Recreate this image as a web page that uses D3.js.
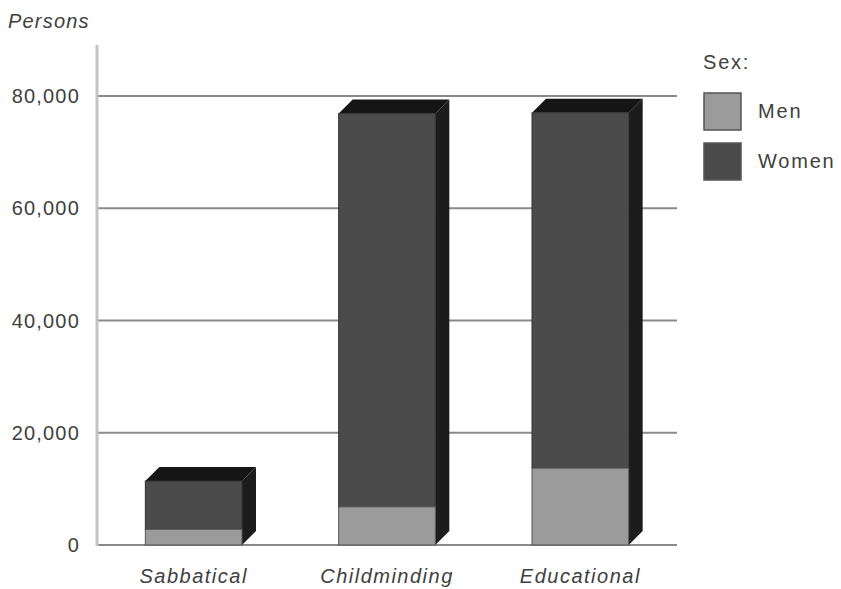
<!DOCTYPE html>
<html>
<head>
<meta charset="utf-8">
<script src="https://cdn.jsdelivr.net/npm/d3@7"></script>
<style>
  body { margin: 0; background: #fff; }
  text { font-family: "Liberation Sans", Arial, sans-serif; fill: #404040; }
</style>
</head>
<body>
<script>
var categories = ["Sabbatical", "Childminding", "Educational"];
var men = [2800, 6800, 13700];
var women = [8600, 70100, 63300];
var yTicks = [0, 20000, 40000, 60000, 80000];
var seriesNames = ["Men", "Women"];

var colFront = {"Men": "#9b9b9b", "Women": "#4b4b4b"};
var depth = 14;

var svg = d3.select("body").append("svg").attr("width", 841).attr("height", 589);

var x = d3.scaleBand()
            .domain(categories)
            .range([97, 677])
            .paddingInner(0.5)
            .paddingOuter(0.25);

var y = d3.scaleLinear().domain([0, 80000]).range([545, 96]);

// grid lines
svg.selectAll("line.grid")
    .data(yTicks)
    .enter().append("line")
      .attr("class", "grid")
      .attr("x1", 97).attr("x2", 677)
      .attr("y1", function(d){ return y(d); })
      .attr("y2", function(d){ return y(d); })
      .attr("stroke", "#8a8a8a")
      .attr("stroke-width", 2);

// y axis line
svg.append("line")
    .attr("x1", 97).attr("x2", 97)
    .attr("y1", 45).attr("y2", 546)
    .attr("stroke", "#c4c4c4")
    .attr("stroke-width", 3);

svg.selectAll("text.ytick")
    .data(yTicks)
    .enter().append("text")
      .attr("class", "ytick")
      .attr("x", 80)
      .attr("y", function(d){ return y(d) + 7; })
      .attr("text-anchor", "end")
      .attr("font-size", 20)
      .attr("letter-spacing", 1.2)
      .text(function(d){ return d3.format(",")(d); });

svg.append("text")
    .attr("x", 8).attr("y", 28)
    .attr("font-size", 20)
    .attr("letter-spacing", 1.2)
    .attr("font-style", "italic")
    .text("Persons");

// bars
var stacked = categories.map(function(c, i){
  return { cat: c, men: men[i], total: men[i] + women[i] };
});

var g = svg.selectAll("g.bar")
    .data(stacked)
    .enter().append("g")
      .attr("class", "bar");

// side face
g.append("path")
    .attr("fill", "#1c1c1c")
    .attr("d", function(d){
      var x1 = x(d.cat) + x.bandwidth(), y0 = y(0), y1 = y(d.total);
      return "M" + x1 + "," + y0 + "L" + (x1 + depth) + "," + (y0 - depth) +
             "L" + (x1 + depth) + "," + (y1 - depth) + "L" + x1 + "," + y1 + "Z";
    });

// top face
g.append("path")
    .attr("fill", "#151515")
    .attr("d", function(d){
      var x0 = x(d.cat), x1 = x0 + x.bandwidth(), y1 = y(d.total);
      return "M" + x0 + "," + y1 + "L" + (x0 + depth) + "," + (y1 - depth) +
             "L" + (x1 + depth) + "," + (y1 - depth) + "L" + x1 + "," + y1 + "Z";
    });

// women front
g.append("rect")
    .attr("x", function(d){ return x(d.cat); })
    .attr("width", x.bandwidth())
    .attr("y", function(d){ return y(d.total); })
    .attr("height", function(d){ return y(d.men) - y(d.total); })
    .attr("fill", colFront.Women)
    .attr("stroke", "#333")
    .attr("stroke-width", 1);

// men front
g.append("rect")
    .attr("x", function(d){ return x(d.cat); })
    .attr("width", x.bandwidth())
    .attr("y", function(d){ return y(d.men); })
    .attr("height", function(d){ return y(0) - y(d.men); })
    .attr("fill", colFront.Men)
    .attr("stroke", "#555")
    .attr("stroke-width", 1);

// category labels
svg.selectAll("text.cat")
    .data(categories)
    .enter().append("text")
      .attr("class", "cat")
      .attr("x", function(d){ return x(d) + x.bandwidth() / 2; })
      .attr("y", 583)
      .attr("text-anchor", "middle")
      .attr("font-size", 20)
      .attr("letter-spacing", 1.5)
      .attr("font-style", "italic")
      .text(function(d){ return d; });

// legend
svg.append("text")
    .attr("x", 703).attr("y", 69)
    .attr("font-size", 20)
    .attr("letter-spacing", 1.8)
    .text("Sex:");

var leg = svg.selectAll("g.leg")
    .data(seriesNames)
    .enter().append("g")
      .attr("class", "leg")
      .attr("transform", function(d, i){ return "translate(704," + (93 + i * 50) + ")"; });

leg.append("rect")
    .attr("width", 37).attr("height", 37)
    .attr("fill", function(d){ return colFront[d]; })
    .attr("stroke", "#555")
    .attr("stroke-width", 1.5);

leg.append("text")
    .attr("x", 54).attr("y", 25)
    .attr("font-size", 20)
    .attr("letter-spacing", 1.8)
    .text(function(d){ return d; });
</script>
</body>
</html>
